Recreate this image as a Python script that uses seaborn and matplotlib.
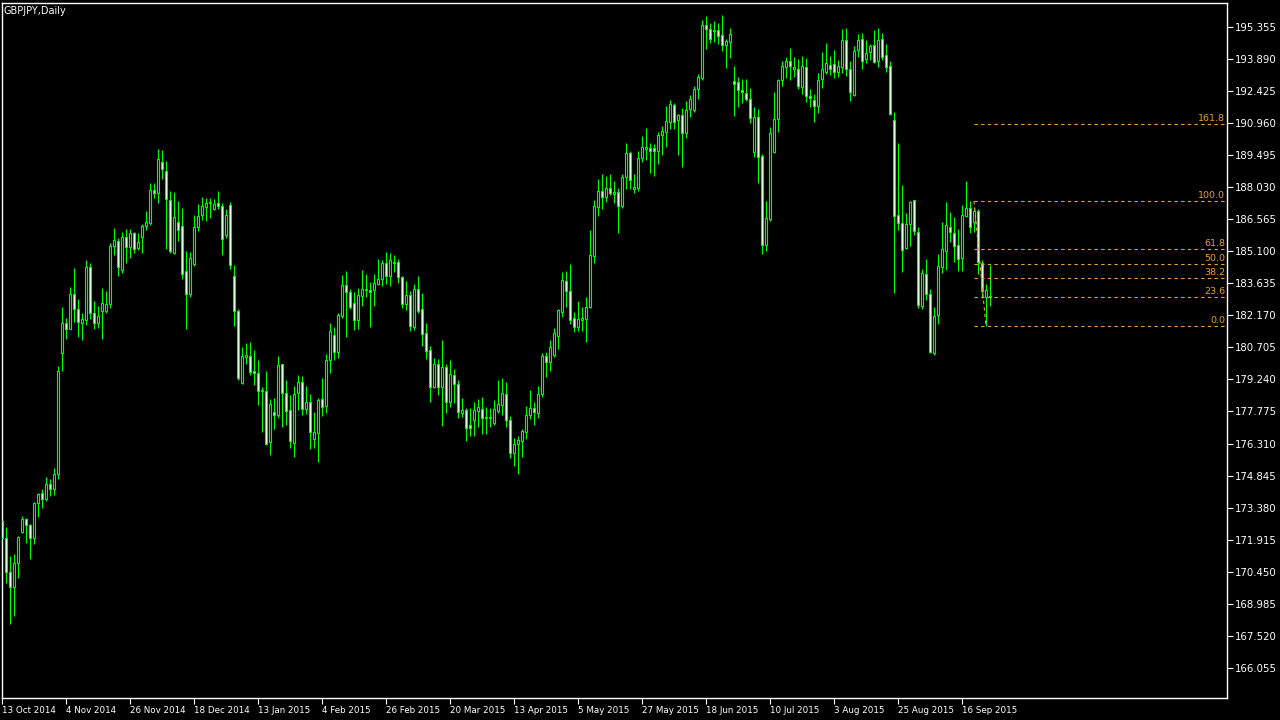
import numpy as np
import pandas as pd
import matplotlib
matplotlib.use("Agg")
import matplotlib.pyplot as plt
import seaborn as sns

# GBPJPY daily bars, 13 Oct 2014 onwards
opens = [
    172.77, 171.98, 170.42, 169.74, 170.83, 172.28, 172.85, 172.57, 171.98, 173.58,
    174.06, 173.76, 174.45, 174.22, 174.90, 180.43, 181.80, 181.56, 183.13, 182.44,
    181.80, 181.95, 184.36, 182.26, 181.80, 182.38, 182.38, 182.69, 185.34, 185.57,
    184.24, 185.76, 185.30, 185.92, 185.23, 185.76, 186.25, 186.40, 187.90, 187.75,
    189.16, 188.75, 187.43, 185.03, 186.42, 186.24, 184.21, 183.16, 184.53, 186.19,
    186.77, 187.13, 187.29, 187.04, 187.29, 187.15, 185.85, 187.20, 183.97, 182.35,
    179.08, 180.28, 180.30, 179.61, 179.52, 178.70, 178.70, 176.37, 177.74, 177.61,
    179.93, 178.60, 177.83, 176.35, 178.60, 179.11, 177.90, 178.19, 176.50, 176.78,
    178.33, 178.02, 180.11, 181.26, 180.51, 182.15, 183.54, 183.22, 182.72, 181.97,
    183.07, 183.33, 183.34, 183.34, 183.61, 183.82, 184.55, 183.95, 184.55, 184.59,
    183.91, 182.67, 183.08, 181.62, 183.36, 182.44, 181.35, 180.57, 178.88, 179.93,
    178.91, 179.79, 178.22, 179.43, 179.02, 177.72, 177.83, 177.14, 177.40, 177.81,
    177.90, 177.46, 177.49, 177.27, 177.81, 178.06, 178.57, 177.37, 175.86, 176.27,
    176.44, 176.85, 177.60, 177.92, 177.72, 178.56, 180.31, 180.05, 180.36, 181.24,
    182.31, 183.72, 183.27, 182.06, 181.62, 181.94, 182.01, 182.54, 184.89, 187.13,
    187.85, 187.59, 187.99, 187.73, 187.79, 187.18, 188.48, 189.59, 187.94, 188.00,
    189.35, 189.77, 189.82, 189.82, 189.67, 190.40, 190.55, 191.02, 191.78, 191.08,
    191.31, 190.49, 191.58, 191.54, 192.51, 193.03, 195.44, 195.25, 195.18, 195.20,
    194.98, 194.51, 194.67, 192.88, 192.83, 192.47, 192.33, 192.06, 189.62, 191.23,
    189.45, 185.40, 186.58, 189.65, 191.13, 192.91, 193.50, 193.79, 193.41, 193.41,
    192.62, 193.50, 192.19, 192.01, 191.75, 192.96, 193.28, 193.60, 193.66, 193.30,
    193.53, 194.74, 193.41, 192.25, 194.28, 194.78, 193.87, 194.19, 194.51, 193.78,
    194.78, 194.05, 193.55, 191.08, 186.74, 186.37, 185.26, 186.33, 187.43, 185.96,
    182.61, 184.04, 183.14, 180.43, 182.20, 184.36, 185.09, 186.19, 185.92, 185.37,
    184.77, 186.71, 187.06, 186.45, 186.94, 184.55, 182.99, 182.99,
]
highs = [
    172.91, 172.48, 171.17, 171.26, 172.08, 173.00, 172.91, 172.63, 173.65, 174.06,
    174.22, 174.77, 174.67, 175.18, 179.85, 182.54, 182.05, 183.45, 184.33, 182.91,
    182.26, 184.70, 184.55, 182.82, 182.60, 183.40, 183.28, 185.46, 186.15, 185.70,
    185.96, 186.10, 186.10, 185.98, 185.92, 186.34, 186.94, 188.20, 188.23, 189.76,
    189.72, 189.22, 187.85, 187.81, 187.39, 187.06, 185.11, 185.06, 186.75, 187.26,
    187.58, 187.54, 187.52, 187.47, 187.85, 187.29, 187.03, 187.35, 184.47, 182.46,
    180.72, 180.90, 180.95, 180.58, 180.13, 178.88, 179.62, 178.33, 178.39, 180.31,
    179.94, 179.21, 178.51, 178.92, 179.44, 179.40, 178.94, 178.57, 177.75, 178.40,
    179.30, 180.40, 181.82, 181.62, 182.27, 184.01, 184.18, 183.36, 183.23, 183.42,
    184.24, 184.06, 183.69, 184.06, 184.74, 184.70, 185.05, 185.00, 184.93, 184.73,
    183.97, 183.74, 183.29, 183.60, 183.97, 183.17, 181.82, 180.77, 180.22, 180.16,
    181.04, 179.94, 180.13, 179.72, 179.21, 178.39, 177.92, 177.93, 178.21, 178.34,
    178.44, 177.97, 177.93, 178.30, 179.21, 179.30, 179.11, 177.57, 176.55, 176.65,
    176.96, 178.02, 178.76, 178.21, 178.94, 180.43, 180.51, 181.04, 181.59, 182.45,
    184.15, 184.21, 184.51, 182.33, 182.82, 182.55, 183.01, 186.07, 187.44, 188.40,
    188.63, 188.54, 188.63, 188.31, 187.99, 188.61, 190.04, 189.68, 188.61, 189.69,
    190.36, 190.74, 190.06, 190.00, 190.55, 190.82, 191.74, 192.01, 191.89, 191.38,
    191.64, 191.96, 192.24, 192.65, 193.20, 195.67, 195.85, 195.51, 195.62, 195.51,
    195.89, 194.81, 195.30, 193.56, 193.06, 192.97, 192.97, 192.54, 191.69, 191.60,
    189.54, 187.39, 190.79, 192.38, 192.97, 193.79, 193.99, 194.40, 193.99, 193.88,
    194.02, 193.93, 192.51, 192.27, 193.24, 194.20, 194.61, 194.02, 194.30, 193.84,
    195.25, 195.30, 193.79, 194.48, 195.03, 195.06, 194.75, 194.57, 195.21, 195.29,
    195.06, 194.57, 193.79, 191.45, 190.03, 188.11, 186.83, 187.39, 187.45, 186.22,
    184.27, 184.74, 183.36, 182.54, 184.96, 186.43, 187.33, 186.88, 186.65, 186.10,
    187.21, 188.31, 187.39, 187.13, 187.03, 184.70, 183.60, 184.47,
]
lows = [
    171.90, 169.92, 168.05, 168.44, 170.18, 172.21, 171.78, 171.05, 171.70, 172.96,
    173.38, 173.68, 173.92, 173.96, 174.67, 179.64, 181.10, 181.53, 181.86, 181.18,
    181.04, 181.73, 181.99, 181.56, 181.60, 181.10, 182.26, 182.52, 184.93, 183.98,
    184.09, 184.55, 184.77, 185.03, 185.15, 185.03, 186.07, 186.30, 187.54, 187.29,
    188.40, 185.20, 185.00, 184.98, 185.57, 183.84, 181.56, 183.02, 184.44, 186.04,
    186.51, 186.49, 186.63, 186.98, 187.03, 184.94, 185.72, 184.29, 181.69, 179.21,
    179.04, 179.94, 179.45, 178.98, 178.07, 176.85, 176.25, 175.80, 176.97, 177.49,
    177.05, 177.17, 176.12, 175.71, 177.86, 177.63, 177.66, 176.07, 176.12, 175.48,
    177.58, 177.72, 179.55, 180.13, 180.23, 182.06, 181.19, 182.46, 181.51, 181.54,
    182.61, 183.02, 181.65, 182.61, 183.54, 183.52, 183.61, 183.52, 184.16, 183.66,
    182.52, 182.40, 181.47, 181.50, 182.29, 180.78, 180.19, 178.22, 178.85, 178.54,
    177.12, 177.72, 177.99, 178.15, 177.49, 177.54, 176.44, 176.67, 176.67, 177.08,
    176.76, 176.74, 177.08, 177.16, 177.72, 177.61, 177.08, 175.66, 175.30, 174.90,
    175.71, 176.53, 177.44, 177.17, 177.49, 178.45, 179.34, 179.64, 180.28, 180.63,
    182.11, 182.56, 181.77, 181.42, 181.47, 181.47, 180.96, 182.49, 184.57, 186.71,
    187.04, 187.35, 187.67, 187.32, 185.95, 187.09, 187.94, 187.93, 187.77, 187.85,
    189.19, 189.27, 188.69, 188.55, 189.10, 189.51, 189.88, 190.70, 190.70, 189.51,
    188.96, 190.29, 191.25, 191.45, 192.07, 192.92, 194.35, 194.60, 194.66, 194.58,
    194.26, 193.49, 193.94, 191.29, 191.70, 191.87, 191.96, 190.94, 189.42, 188.23,
    184.98, 185.12, 186.48, 189.60, 190.56, 192.66, 193.00, 192.92, 193.07, 192.51,
    192.30, 191.92, 191.70, 191.02, 191.42, 192.56, 193.20, 193.17, 193.03, 193.05,
    193.23, 193.11, 191.98, 192.20, 193.97, 193.44, 193.69, 193.82, 193.69, 193.53,
    193.84, 193.29, 191.32, 183.20, 186.07, 184.15, 185.21, 185.34, 185.84, 182.50,
    182.47, 182.87, 180.43, 180.37, 181.76, 184.12, 184.24, 185.51, 184.61, 184.19,
    184.19, 186.65, 185.95, 185.98, 184.07, 182.95, 181.67, 182.61,
]
closes = [
    171.99, 170.42, 169.74, 170.83, 172.02, 172.85, 172.57, 171.98, 173.58, 173.99,
    173.76, 174.45, 174.24, 174.90, 179.64, 181.80, 181.56, 183.13, 182.44, 181.85,
    181.99, 184.36, 182.26, 181.80, 182.14, 182.72, 182.69, 185.34, 185.61, 184.39,
    185.73, 185.28, 185.92, 185.20, 185.51, 186.25, 186.42, 187.90, 187.75, 189.30,
    188.87, 187.50, 185.12, 186.65, 186.07, 184.04, 183.16, 184.77, 186.19, 186.69,
    187.15, 187.29, 187.35, 187.24, 187.18, 185.67, 186.74, 184.48, 182.38, 179.32,
    180.30, 180.36, 179.59, 179.52, 178.72, 178.76, 176.30, 178.10, 177.60, 179.88,
    178.60, 177.78, 176.42, 178.56, 179.11, 177.90, 178.21, 176.85, 176.82, 178.30,
    178.00, 180.11, 181.44, 180.48, 182.18, 183.54, 183.22, 182.56, 181.97, 183.08,
    183.36, 183.36, 183.22, 183.63, 183.82, 184.55, 183.95, 184.68, 184.61, 183.91,
    182.67, 183.08, 181.67, 183.36, 182.38, 181.33, 180.52, 178.91, 179.93, 178.91,
    179.79, 178.22, 179.47, 179.02, 177.74, 177.83, 177.03, 177.03, 177.83, 177.97,
    177.49, 177.51, 177.52, 177.87, 178.10, 178.60, 177.37, 175.86, 176.27, 176.47,
    176.88, 177.60, 177.92, 177.75, 178.56, 180.31, 180.05, 180.71, 181.35, 182.41,
    183.78, 183.29, 181.94, 181.65, 181.99, 182.05, 182.54, 184.93, 187.17, 187.85,
    187.59, 187.99, 187.77, 187.81, 187.18, 188.48, 189.59, 188.37, 188.03, 189.35,
    189.86, 189.86, 189.70, 189.67, 190.40, 190.59, 191.04, 191.81, 191.02, 191.34,
    190.49, 191.55, 192.06, 192.51, 193.05, 195.44, 195.24, 194.78, 195.20, 194.95,
    194.51, 194.69, 195.03, 192.73, 192.45, 192.36, 192.07, 191.20, 191.22, 189.42,
    185.40, 186.60, 190.49, 191.14, 192.92, 193.56, 193.78, 193.58, 193.53, 192.66,
    193.56, 192.21, 192.08, 191.75, 192.91, 193.41, 193.69, 193.44, 193.30, 193.56,
    194.74, 193.44, 192.39, 194.24, 194.74, 193.81, 194.14, 194.46, 193.75, 194.74,
    193.99, 193.50, 191.37, 186.69, 186.37, 185.14, 186.33, 187.35, 186.01, 182.65,
    184.09, 183.14, 180.49, 182.14, 184.44, 185.19, 186.28, 185.99, 185.35, 184.73,
    186.74, 187.06, 186.19, 186.95, 184.59, 183.29, 183.31, 183.05,
]

date_ticks = [0, 16, 32, 48, 64, 80, 96, 112, 128, 144, 160, 176, 192, 208, 224, 240]
date_labels = ["13 Oct 2014", "4 Nov 2014", "26 Nov 2014", "18 Dec 2014",
               "13 Jan 2015", "4 Feb 2015", "26 Feb 2015", "20 Mar 2015",
               "13 Apr 2015", "5 May 2015", "27 May 2015", "18 Jun 2015",
               "10 Jul 2015", "3 Aug 2015", "25 Aug 2015", "16 Sep 2015"]
price_ticks = [195.355, 193.890, 192.425, 190.960, 189.495, 188.030, 186.565,
               185.100, 183.635, 182.170, 180.705, 179.240, 177.775, 176.310,
               174.845, 173.380, 171.915, 170.450, 168.985, 167.520, 166.055]

# fibonacci retracement object
fib_high = 187.39
fib_low = 181.67
fib_ratios = [0.0, 23.6, 38.2, 50.0, 61.8, 100.0, 161.8]
fib_bar_start = 243
fib_bar_end = 246

df = pd.DataFrame({"open": opens, "high": highs, "low": lows, "close": closes})
df["bar"] = np.arange(len(df))
df["bull"] = df["close"] >= df["open"]

sns.set_theme(style="dark", rc={
    "figure.facecolor": "black",
    "axes.facecolor": "black",
    "axes.edgecolor": "white",
    "axes.linewidth": 1.0,
    "xtick.color": "white",
    "ytick.color": "white",
})
plt.rcParams["font.family"] = ["DejaVu Sans"]

green = "#00ff00"
orange = "#e8a035"

fig = plt.figure(figsize=(12.8, 7.2), dpi=100)
ax = fig.add_axes([2 / 1280, 22 / 720, 1225 / 1280, 695 / 720])

# wicks
ax.vlines(df["bar"], df["low"], df["high"], color=green, lw=0.8, zorder=2)

# bodies: bull = black, bear = white, green outline
body_low = df[["open", "close"]].min(axis=1)
body_h = (df["close"] - df["open"]).abs().clip(lower=0.02)
face = np.where(df["bull"], "black", "white")
ax.bar(df["bar"], body_h, bottom=body_low, width=0.55, color=face,
       edgecolor=green, linewidth=0.8, zorder=3)

xmax = 306.25
ax.set_xlim(0, xmax)
ax.set_ylim(164.679, 196.443)

# fibonacci levels
for r in fib_ratios:
    lvl = fib_low + (fib_high - fib_low) * r / 100
    ax.hlines(lvl, fib_bar_start, xmax, colors=orange, linestyles=(0, (3, 3)),
              lw=0.8, zorder=4)
    ax.text(xmax - 0.4, lvl + 0.05, f"{r:.1f}", color=orange, fontsize=6.8,
            ha="right", va="bottom", zorder=5)
ax.plot([fib_bar_start, fib_bar_end], [fib_high, fib_low], color=orange,
        ls=(0, (3, 3)), lw=0.8, zorder=4)

# axes styling
ax.yaxis.tick_right()
ax.set_yticks(price_ticks)
ax.set_yticklabels([f"{p:.3f}" for p in price_ticks])
ax.set_xticks(date_ticks)
ax.set_xticklabels(date_labels)
for lab in ax.get_xticklabels():
    lab.set_horizontalalignment("left")
ax.tick_params(axis="y", direction="out", length=4, width=0.8, labelsize=7.3,
               pad=2, colors="white")
ax.tick_params(axis="x", direction="out", length=4, width=0.8, labelsize=6.3,
               pad=2, colors="white")
ax.tick_params(axis="x", which="both", bottom=True)
ax.tick_params(axis="y", which="both", right=True)
ax.grid(False)
for s in ax.spines.values():
    s.set_color("white")
    s.set_linewidth(1.0)

ax.text(0.0015, 0.996, "GBPJPY,Daily", transform=ax.transAxes, color="white",
        fontsize=7, ha="left", va="top")

fig.savefig("out.png", dpi=100, facecolor="black")
